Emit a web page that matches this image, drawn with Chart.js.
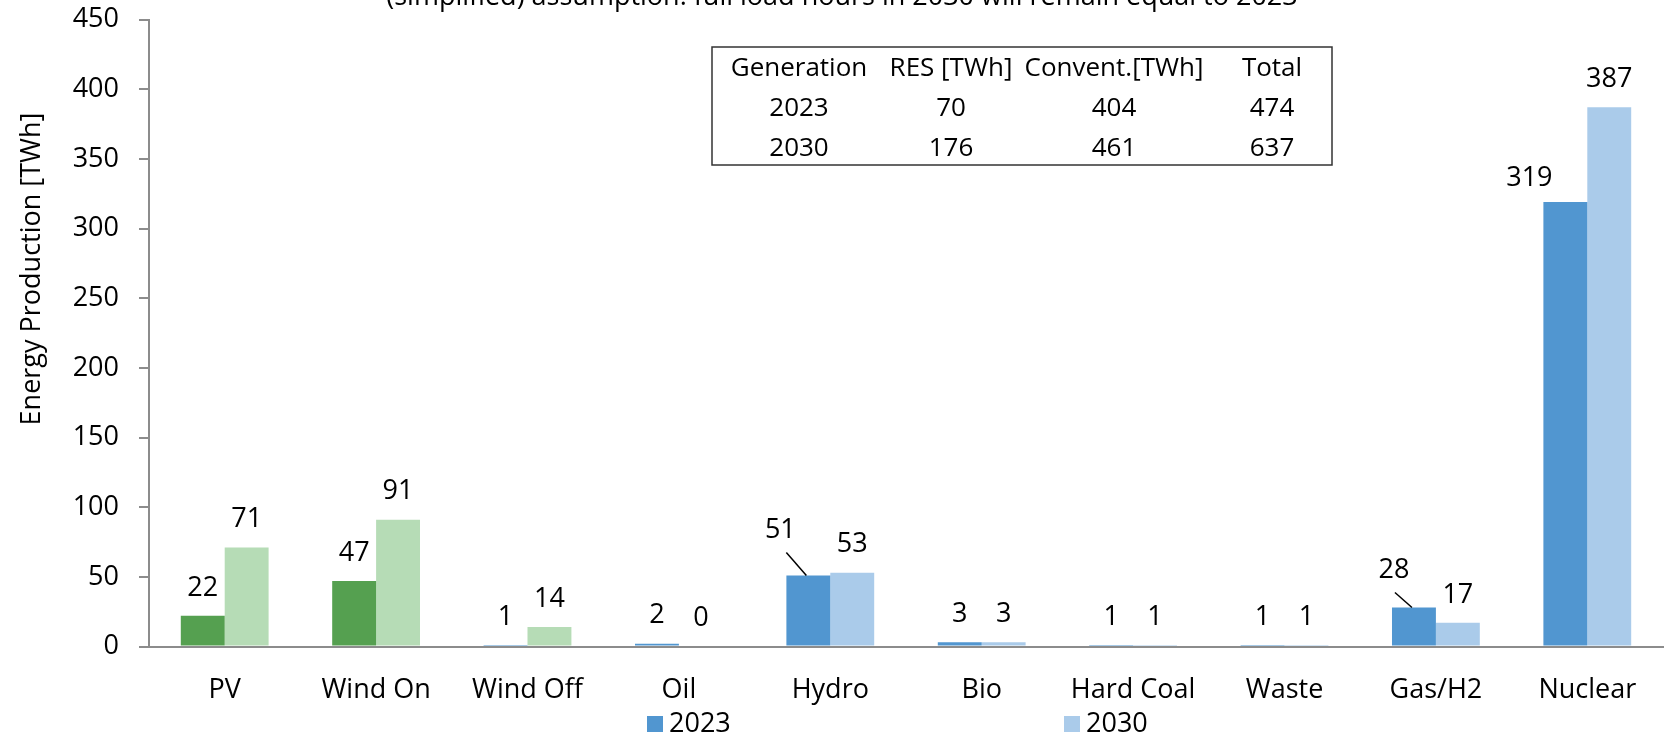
<!DOCTYPE html>
<html>
<head>
<meta charset="utf-8">
<script src="https://cdn.jsdelivr.net/npm/chart.js@4.4.0/dist/chart.umd.min.js"></script>
<style>
  html, body { margin: 0; padding: 0; background: #fff; }
</style>
</head>
<body>
<canvas id="c" width="1668" height="736"></canvas>
<script>
// data
const categories = ['PV', 'Wind On', 'Wind Off', 'Oil', 'Hydro', 'Bio', 'Hard Coal', 'Waste', 'Gas/H2', 'Nuclear'];
const values2023 = [22, 47, 1, 2, 51, 3, 1, 1, 28, 319];
const values2030 = [71, 91, 14, 0, 53, 3, 1, 1, 17, 387];
const seriesNames = ['2023', '2030'];
const yMin = 0, yMax = 450, yStep = 50;
const tableHeader = ['Generation', 'RES [TWh]', 'Convent.[TWh]', 'Total'];
const tableRows = [
  ['2023', '70', '404', '474'],
  ['2030', '176', '461', '637']
];
const titleText = '(simplified) assumption: full load hours in 2030 will remain equal to 2023';
const yTitle = 'Energy Production [TWh]';

const BLUE = '#5196d0', LBLUE = '#aacbea', GREEN = '#55a050', LGREEN = '#b6dcb6';
const colors2023 = [GREEN, GREEN, BLUE, BLUE, BLUE, BLUE, BLUE, BLUE, BLUE, BLUE];
const colors2030 = [LGREEN, LGREEN, LGREEN, LBLUE, LBLUE, LBLUE, LBLUE, LBLUE, LBLUE, LBLUE];

const FAMILY = '"Open Sans", "Noto Sans", sans-serif';
const FONT = '27px ' + FAMILY;
const AXIS = '#8c8c8c';

// label placement tweaks (dataset-index) -> offsets from bar top centre
const labelPos = {
  '0-4': { dx: -28, dy: -45, line: [-22, -23, -2, 0] },
  '0-8': { dx: -20, dy: -37, line: [-19, -15, -2, 0] },
  '0-9': { dx: -36, dy: -24 }
};

const valueLabels = {
  id: 'valueLabels',
  afterDatasetsDraw(chart) {
    const ctx = chart.ctx;
    ctx.save();
    ctx.font = FONT;
    ctx.fillStyle = '#000';
    ctx.strokeStyle = '#000';
    ctx.lineWidth = 1.5;
    ctx.textAlign = 'center';
    ctx.textBaseline = 'middle';
    chart.data.datasets.forEach((ds, di) => {
      chart.getDatasetMeta(di).data.forEach((bar, i) => {
        const p = labelPos[di + '-' + i] || { dx: 0, dy: -28 };
        ctx.fillText(String(ds.data[i]), bar.x + p.dx, bar.y + p.dy);
        if (p.line) {
          ctx.beginPath();
          ctx.moveTo(bar.x + p.line[0], bar.y + p.line[1]);
          ctx.lineTo(bar.x + p.line[2], bar.y + p.line[3]);
          ctx.stroke();
        }
      });
    });
    ctx.restore();
  }
};

const extras = {
  id: 'extras',
  afterDraw(chart) {
    const ctx = chart.ctx;
    ctx.save();
    ctx.fillStyle = '#000';
    ctx.font = FONT;

    // title, cut off at the top edge
    ctx.textAlign = 'center';
    ctx.textBaseline = 'alphabetic';
    ctx.fillText(titleText, 842, 5);

    // y axis title
    ctx.save();
    ctx.translate(32, 269);
    ctx.rotate(-Math.PI / 2);
    ctx.textBaseline = 'middle';
    ctx.fillText(yTitle, 0, 0);
    ctx.restore();

    // summary table
    ctx.strokeStyle = '#333';
    ctx.lineWidth = 1.5;
    ctx.strokeRect(712, 47, 620, 118);
    ctx.font = '26px ' + FAMILY;
    ctx.textBaseline = 'middle';
    const colX = [799, 951, 1114, 1272];
    const rowY = [69, 109, 149];
    tableHeader.forEach((t, c) => ctx.fillText(t, colX[c], rowY[0]));
    tableRows.forEach((row, r) => row.forEach((t, c) => ctx.fillText(t, colX[c], rowY[r + 1])));

    // legend
    ctx.font = FONT;
    ctx.textAlign = 'left';
    const legX = [647, 1064];
    chart.data.datasets.forEach((ds, di) => {
      ctx.fillStyle = di === 0 ? BLUE : LBLUE;
      ctx.fillRect(legX[di], 716, 16, 16);
      ctx.fillStyle = '#000';
      ctx.fillText(ds.label, legX[di] + 22, 724);
    });
    ctx.restore();
  }
};

new Chart(document.getElementById('c'), {
  type: 'bar',
  data: {
    labels: categories,
    datasets: [
      { label: seriesNames[0], data: values2023, backgroundColor: colors2023, borderWidth: 0 },
      { label: seriesNames[1], data: values2030, backgroundColor: colors2030, borderWidth: 0 }
    ]
  },
  options: {
    responsive: false,
    animation: false,
    layout: { padding: { top: 19.5, right: 5, left: 0, bottom: 0 } },
    datasets: { bar: { categoryPercentage: 0.58, barPercentage: 1 } },
    plugins: { legend: { display: false }, tooltip: { enabled: false }, title: { display: false } },
    scales: {
      x: {
        grid: { display: false, drawTicks: false },
        border: { display: true, color: AXIS, width: 2 },
        ticks: { color: '#000', font: { family: FAMILY, size: 27 }, padding: 28, maxRotation: 0, autoSkip: false },
        afterFit(s) { s.height = 89.5; s.paddingLeft = 0; s.paddingRight = 0; }
      },
      y: {
        min: yMin, max: yMax,
        grid: { drawOnChartArea: false, drawTicks: true, tickLength: 10, color: AXIS, lineWidth: 2 },
        border: { display: true, color: AXIS, width: 2 },
        ticks: { stepSize: yStep, color: '#000', font: { family: FAMILY, size: 27 }, padding: 20 },
        afterFit(s) { s.width = 149; s.paddingTop = 0; s.paddingBottom = 0; }
      }
    }
  },
  plugins: [valueLabels, extras]
});
</script>
</body>
</html>
